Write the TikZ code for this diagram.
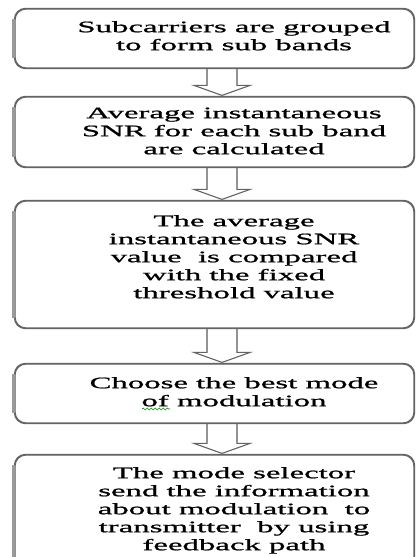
\documentclass[tikz,border=0pt]{standalone}
\usepackage{fontspec}
\setmainfont{Liberation Serif}[FakeStretch=2.05,FakeBold=1]
\usetikzlibrary{calc,decorations.pathmorphing}
\definecolor{edge}{RGB}{100,100,100}
\newcommand\blockarrow[2]{%
  \draw[blockarr] ($(#1.south)+(-7.5,0)$) -- ($(#2.north)+(-7.5,-11)$)
    -- ($(#2.north)+(-20.5,-11)$) -- ($(#2.north)+(7.5,-1)$)
    -- ($(#2.north)+(35.5,-11)$) -- ($(#2.north)+(22.5,-11)$)
    -- ($(#1.south)+(22.5,0)$);
  \draw[edge!70, line width=2pt] ($(#1.south)+(-7.5,0)$) -- ($(#2.north)+(-7.5,-11)$);
  \draw[edge!70, line width=2pt] ($(#1.south)+(22.5,0)$) -- ($(#2.north)+(22.5,-11)$);}
\newcommand\leftedge[1]{%
  \draw[edge!65, line width=3pt] ($(#1.north west)+(-1,11)$) -- ($(#1.south west)+(-1,-11)$);}
\begin{document}
\begin{tikzpicture}[x=1pt,y=-1pt,
  box/.style={draw=edge, line width=1.2pt, rounded corners=11pt, minimum width=399pt, inner sep=0pt, fill=white},
  txt/.style={font=\fontsize{16}{18}\selectfont, align=center, inner sep=0pt, anchor=north},
  blockarr/.style={draw=edge, line width=1.1pt, fill=white, line join=miter}]
\clip (0,0) rectangle (416,557);
\fill[white] (0,0) rectangle (416,557);
% boxes (shapes only)
\node[box, minimum height=59pt]  (b1) at (214.5,38.5) {};
\node[box, minimum height=70pt]  (b2) at (214.5,132) {};
\node[box, minimum height=127pt] (b3) at (214.5,264.5) {};
\node[box, minimum height=59pt]  (b4) at (214.5,393.5) {};
\node[box, minimum height=125pt] (b5) at (214.5,517.5) {};
% connectors
\blockarrow{b1}{b2}
\blockarrow{b2}{b3}
\blockarrow{b3}{b4}
\blockarrow{b4}{b5}
% redraw box outlines over arrow ends
\foreach \b in {b1,b2,b3,b4,b5}{
  \draw[edge, line width=1.2pt, rounded corners=11pt] (\b.north west) rectangle (\b.south east);
  \leftedge{\b}
}
% texts
\node[txt] (t1) at (234,19.4) {\strut Subcarriers are grouped\\\strut to form sub bands};
\node[txt] (t2) at (234,105.4) {\strut Average instantaneous\\\strut SNR for each sub band\\\strut are calculated};
\node[txt] (t3) at (234,213.4) {\strut The average\\\strut instantaneous SNR\\\strut value\ \ is compared\\\strut with the fixed\\\strut threshold value};
\node[txt] (t4) at (234,375.4) {\strut Choose the best mode\\\strut of modulation};
\node[txt] (t5) at (234,465.4) {\strut The mode selector\\\strut send the information\\\strut about modulation\ \ to\\\strut transmitter\ \ by using\\\strut feedback path};
\draw[green!55!black, line width=0.6pt, decorate, decoration={snake, amplitude=1pt, segment length=4pt}] (142,409) -- (170,409);
\end{tikzpicture}
\end{document}
